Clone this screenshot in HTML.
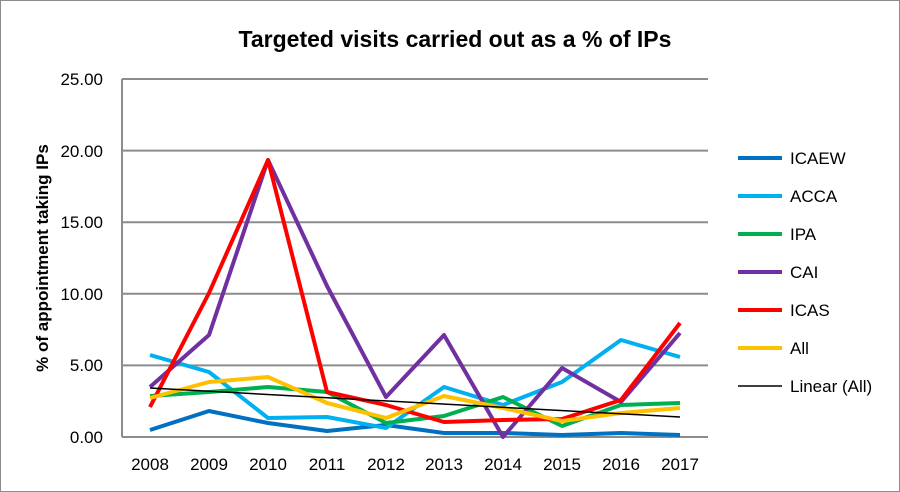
<!DOCTYPE html>
<html><head><style>
body{margin:0;background:#fff;}
svg{display:block;font-family:"Liberation Sans",Arial,sans-serif;}
</style></head><body>
<svg width="900" height="492" viewBox="0 0 900 492">
<rect x="0.5" y="0.5" width="899" height="491" fill="#fff" stroke="#8c8c8c"/>
<text x="455" y="47" font-size="23" font-weight="bold" text-anchor="middle">Targeted visits carried out as a % of IPs</text>
<g stroke="#8c8c8c" stroke-width="2">
<line x1="122" y1="79" x2="708" y2="79"/>
<line x1="122" y1="150.6" x2="708" y2="150.6"/>
<line x1="122" y1="222.2" x2="708" y2="222.2"/>
<line x1="122" y1="293.8" x2="708" y2="293.8"/>
<line x1="122" y1="365.4" x2="708" y2="365.4"/>
<line x1="122" y1="437" x2="708" y2="437"/>
<line x1="122" y1="79" x2="122" y2="437"/>
</g>
<g font-size="17" text-anchor="end">
<text x="103" y="85">25.00</text><text x="103" y="157">20.00</text><text x="103" y="228">15.00</text>
<text x="103" y="300">10.00</text><text x="103" y="371">5.00</text><text x="103" y="443">0.00</text>
</g>
<g font-size="17" text-anchor="middle">
<text x="150" y="470">2008</text><text x="209" y="470">2009</text><text x="268" y="470">2010</text><text x="327" y="470">2011</text><text x="386" y="470">2012</text><text x="444" y="470">2013</text><text x="503" y="470">2014</text><text x="562" y="470">2015</text><text x="621" y="470">2016</text><text x="680" y="470">2017</text>
</g>
<text transform="translate(48,258) rotate(-90)" font-size="17" font-weight="bold" text-anchor="middle">% of appointment taking IPs</text>
<g fill="none" stroke-width="4" stroke-linejoin="round">
<polyline stroke="#0070c0" points="150,430 209,411 268,423 327,431 386,425 444,433 503,433 562,435 621,433 680,435"/>
<polyline stroke="#00b0f0" points="150,355 209,372 268,418 327,417 386,428 444,387 503,405 562,382 621,340 680,357"/>
<polyline stroke="#00b050" points="150,396 209,392 268,387 327,392 386,423 444,416 503,397 562,426 621,405 680,403"/>
<polyline stroke="#7030a0" points="150,387 209,335 268,160 327,286 386,397 444,335 503,437 562,368 621,402 680,333"/>
<polyline stroke="#ff0000" points="150,407 209,293 268,160 327,392 386,405 444,422 503,420 562,419 621,400 680,323"/>
<polyline stroke="#ffc000" points="150,398 209,382 268,377 327,403 386,418 444,396 503,408 562,421 621,413 680,408"/>
<line stroke="#000" stroke-width="1.5" x1="150" y1="388" x2="680" y2="417"/>
</g>
<g font-size="17">
<line x1="738" y1="158" x2="782" y2="158" stroke="#0070c0" stroke-width="4"/><text x="790" y="164">ICAEW</text>
<line x1="738" y1="196" x2="782" y2="196" stroke="#00b0f0" stroke-width="4"/><text x="790" y="202">ACCA</text>
<line x1="738" y1="234" x2="782" y2="234" stroke="#00b050" stroke-width="4"/><text x="790" y="240">IPA</text>
<line x1="738" y1="272" x2="782" y2="272" stroke="#7030a0" stroke-width="4"/><text x="790" y="278">CAI</text>
<line x1="738" y1="310" x2="782" y2="310" stroke="#ff0000" stroke-width="4"/><text x="790" y="316">ICAS</text>
<line x1="738" y1="348" x2="782" y2="348" stroke="#ffc000" stroke-width="4"/><text x="790" y="354">All</text>
<line x1="738" y1="386" x2="782" y2="386" stroke="#000" stroke-width="1.5"/><text x="790" y="392">Linear (All)</text>
</g>
</svg>
</body></html>
